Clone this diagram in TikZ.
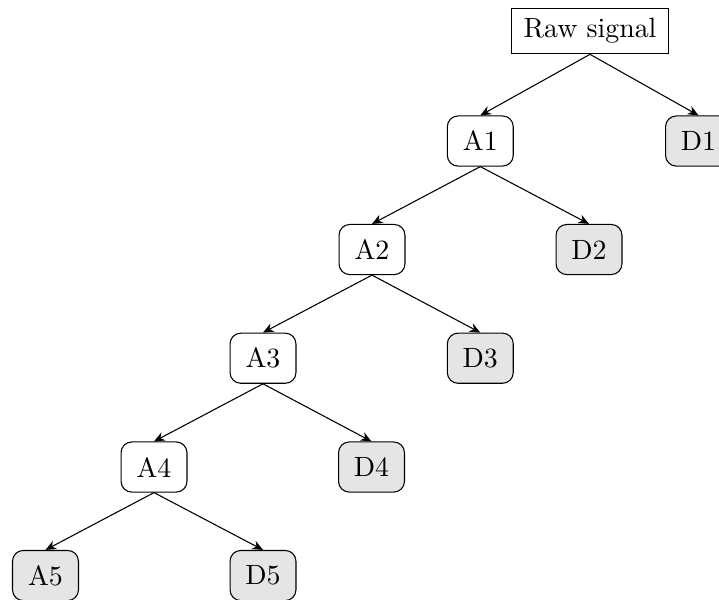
\documentclass[tikz,border=0pt]{standalone}
\usetikzlibrary{arrows.meta}
\begin{document}
\begin{tikzpicture}[x=0.37313pt, y=-0.37313pt,
  every node/.style={font=\fontsize{10.4}{12.5}\selectfont},
  rawbox/.style={draw, line width=0.4pt, inner xsep=4.4pt, minimum height=17pt, fill=white},
  abox/.style={draw, rounded corners=4pt, minimum width=24.6pt, minimum height=18.7pt, inner sep=2pt, fill=white},
  dbox/.style={abox, fill=gray!20},
  link/.style={-{Stealth[length=4pt,width=3.4pt]}, line width=0.4pt}]
\useasboundingbox (0,0) rectangle (719,599);
\clip (0,0) rectangle (719,599);
\node[rawbox] (raw) at (590,31) {Raw signal};
\node[abox] (a1) at (480.3,141) {A1};
\node[dbox] (d1) at (698.5,141) {D1};
\node[abox] (a2) at (372,249.5) {A2};
\node[dbox] (d2) at (589,249.5) {D2};
\node[abox] (a3) at (263,358.2) {A3};
\node[dbox] (d3) at (480.3,358.2) {D3};
\node[abox] (a4) at (154,467) {A4};
\node[dbox] (d4) at (371.5,467) {D4};
\node[dbox] (a5) at (45.5,575.5) {A5};
\node[dbox] (d5) at (263,575.5) {D5};
\draw[link] (raw.south) -- (a1.north);
\draw[link] (raw.south) -- (d1.north);
\draw[link] (a1.south) -- (a2.north);
\draw[link] (a1.south) -- (d2.north);
\draw[link] (a2.south) -- (a3.north);
\draw[link] (a2.south) -- (d3.north);
\draw[link] (a3.south) -- (a4.north);
\draw[link] (a3.south) -- (d4.north);
\draw[link] (a4.south) -- (a5.north);
\draw[link] (a4.south) -- (d5.north);
\end{tikzpicture}
\end{document}
